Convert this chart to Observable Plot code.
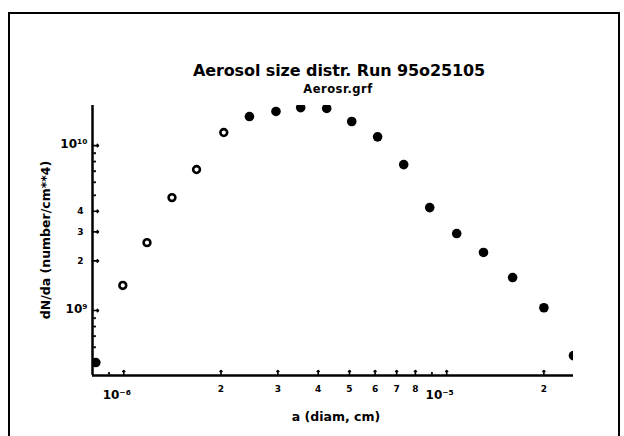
<!DOCTYPE html>
<html>
<head>
<meta charset="utf-8">
<script src="https://cdn.jsdelivr.net/npm/d3@7"></script>
<script src="https://cdn.jsdelivr.net/npm/@observablehq/plot@0.6"></script>
<style>
  html, body { margin: 0; padding: 0; background: #fff; }
  #wrap { position: relative; width: 624px; height: 436px; overflow: hidden; background: #fff;
          font-family: "DejaVu Sans", sans-serif; }
  #frame { position: absolute; left: 8px; top: 12px; width: 612px; height: 440px;
           border: 2px solid #000; box-sizing: border-box; }
  #head { position: relative; height: 95px; }
  #title { position: absolute; left: 339px; top: 61px; transform: translateX(-50%);
           font-size: 16px; font-weight: bold; white-space: nowrap; letter-spacing: -0.1px; }
  #subtitle { position: absolute; left: 338px; top: 82px; transform: translateX(-50%);
              font-size: 11.5px; font-weight: bold; white-space: nowrap; letter-spacing: 0.5px; }
  #ylabel { position: absolute; left: 45px; top: 240px; transform: translate(-50%, -50%) rotate(-90deg);
            font-size: 12.5px; font-weight: bold; white-space: nowrap; z-index: 2; }
  svg { display: block; }
</style>
</head>
<body>
<div id="wrap">
  <div id="frame"></div>
  <div id="head">
    <div id="title">Aerosol size distr. Run 95o25105</div>
    <div id="subtitle">Aerosr.grf</div>
  </div>
  <div id="ylabel">dN/da (number/cm**4)</div>
  <div id="chart"></div>
</div>
<script>
// Data (diameter in cm, dN/da in number/cm**4)
const diam = [8.19e-7, 9.93e-7, 1.18e-6, 1.41e-6, 1.68e-6, 2.04e-6, 2.45e-6, 2.96e-6, 3.53e-6, 4.25e-6,
              5.08e-6, 6.11e-6, 7.36e-6, 8.86e-6, 1.074e-5, 1.30e-5, 1.60e-5, 2.00e-5, 2.47e-5];
const dNda = [4.84e8, 1.42e9, 2.58e9, 4.84e9, 7.16e9, 1.20e10, 1.50e10, 1.61e10, 1.70e10, 1.68e10,
              1.40e10, 1.13e10, 7.67e9, 4.21e9, 2.93e9, 2.25e9, 1.585e9, 1.04e9, 5.33e8];

const xDomain = [8.0e-7, 2.47e-5];
const yDomain = [4.04e8, 1.75e10];

const xDecades = [1e-6, 1e-5];
const xDecadeLabels = ["10⁻⁶", "10⁻⁵"];
const xDigits = [2e-6, 3e-6, 4e-6, 5e-6, 6e-6, 7e-6, 8e-6, 2e-5];
const xDigitLabels = ["2", "3", "4", "5", "6", "7", "8", "2"];
const xMinor = [9e-7, 9e-6];

const yDecades = [1e9, 1e10];
const yDecadeLabels = ["10⁹", "10¹⁰"];
const yDigits = [2e9, 3e9, 4e9];
const yDigitLabels = ["2", "3", "4"];
const yMinor = [5e8, 6e8, 7e8, 8e8, 9e8, 5e9, 6e9, 7e9, 8e9, 9e9];

const data = diam.map((d, i) => ({a: d, n: dNda[i], open: i >= 1 && i <= 5}));
const xDec = xDecades.map((v, i) => ({v, t: xDecadeLabels[i]}));
const xDig = xDigits.map((v, i) => ({v, t: xDigitLabels[i]}));
const yDec = yDecades.map((v, i) => ({v, t: yDecadeLabels[i]}));
const yDig = yDigits.map((v, i) => ({v, t: yDigitLabels[i]}));

const chart = Plot.plot({
  width: 624,
  height: 341,
  marginLeft: 92,
  marginRight: 51,
  marginTop: 10,
  marginBottom: 61,
  style: {fontFamily: "DejaVu Sans, sans-serif", fontWeight: "bold", color: "#000", background: "transparent"},
  x: {type: "log", domain: xDomain, axis: null},
  y: {type: "log", domain: yDomain, axis: null},
  marks: [
    // inward tick marks
    Plot.vector([...xDecades, ...xDigits], {x: d => d, frameAnchor: "bottom", rotate: 0, length: 5, anchor: "start", strokeWidth: 1.6}),
    Plot.vector(xMinor, {x: d => d, frameAnchor: "bottom", rotate: 0, length: 3, anchor: "start", strokeWidth: 1.2}),
    Plot.vector([...yDecades, ...yDigits], {y: d => d, frameAnchor: "left", rotate: 90, length: 6, anchor: "start", strokeWidth: 1.6}),
    Plot.vector(yMinor, {y: d => d, frameAnchor: "left", rotate: 90, length: 3, anchor: "start", strokeWidth: 1.2}),
    // tick labels
    Plot.text(xDec, {x: "v", text: "t", frameAnchor: "bottom", dy: 23, dx: -7, fontSize: 12, fontWeight: "bold"}),
    Plot.text(xDig, {x: "v", text: "t", frameAnchor: "bottom", dy: 16, fontSize: 9, fontWeight: "bold"}),
    Plot.text(yDec, {y: "v", text: "t", frameAnchor: "left", textAnchor: "end", dx: -5, dy: -1, fontSize: 12, fontWeight: "bold"}),
    Plot.text(yDig, {y: "v", text: "t", frameAnchor: "left", textAnchor: "end", dx: -9, fontSize: 9, fontWeight: "bold"}),
    // x axis title
    Plot.text(["a (diam, cm)"], {frameAnchor: "bottom", dy: 45, dx: 3, fontSize: 12.5, fontWeight: "bold"}),
    // axis lines
    Plot.ruleX([xDomain[0]], {stroke: "#000", strokeWidth: 2.5}),
    Plot.ruleY([yDomain[0]], {stroke: "#000", strokeWidth: 2.5}),
    // data
    Plot.dot(data.filter(d => !d.open), {x: "a", y: "n", r: 4.8, fill: "#000", stroke: "none", clip: true}),
    Plot.dot(data.filter(d => d.open), {x: "a", y: "n", r: 3.4, fill: "#fff", stroke: "#000", strokeWidth: 2.6})
  ]
});
document.getElementById("chart").appendChild(chart);
</script>
</body>
</html>
